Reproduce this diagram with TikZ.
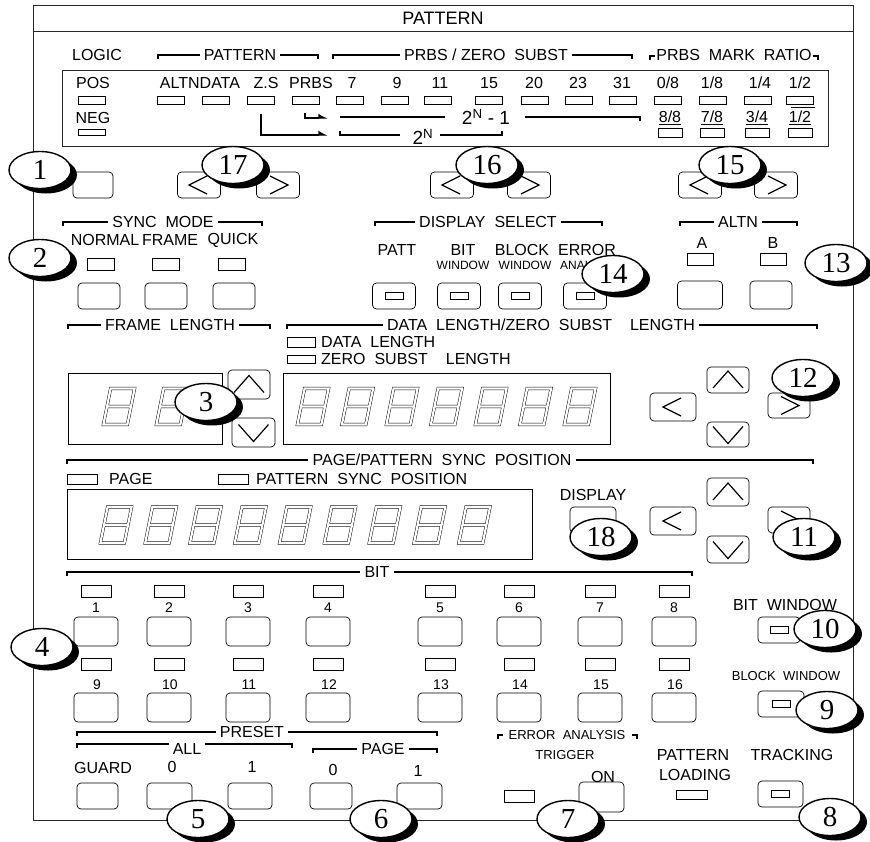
\documentclass[tikz,border=0pt]{standalone}
\usepackage{fontspec}
\setmainfont{Liberation Sans}
\newfontfamily\numfont{Liberation Serif}
\usetikzlibrary{shapes.geometric, shadows, arrows.meta}
\tikzset{
  frm/.style={line width=0.8pt, draw=black!85},
  brk/.style={line width=1.5pt},
  thn/.style={line width=1.2pt},
  lbl/.style={font=\fontsize{16}{18}\selectfont, inner sep=1pt},
  sml/.style={font=\fontsize{13}{15}\selectfont, inner sep=1pt},
  tiny/.style={font=\fontsize{12}{14}\selectfont, inner sep=1pt},
  num/.style={font=\fontsize{14}{16}\selectfont, inner sep=1pt},
  hdr/.style={lbl, inner sep=4pt},
  led/.style={draw, line width=0.6pt, minimum width=27pt, minimum height=8pt, inner sep=0pt},
  bigled/.style={led, minimum width=30pt, minimum height=12pt},
  btn/.style={draw, line width=0.7pt, rounded corners=4pt, minimum width=43pt,
              minimum height=26pt, inner sep=0pt},
  ledbtn/.style={btn, path picture={
      \draw[line width=0.6pt, sharp corners] ([shift={(-9pt,-3.5pt)}]path picture bounding box.center)
        rectangle ([shift={(9pt,3.5pt)}]path picture bounding box.center);}},
  chev/.style={line width=1.2pt, sharp corners},
  lbtn/.style={btn, path picture={
      \draw[chev] ([shift={(8pt,9pt)}]path picture bounding box.center)
        -- ([shift={(-10pt,0pt)}]path picture bounding box.center)
        -- ([shift={(8pt,-9pt)}]path picture bounding box.center);}},
  rbtn/.style={btn, path picture={
      \draw[chev] ([shift={(-8pt,9pt)}]path picture bounding box.center)
        -- ([shift={(10pt,0pt)}]path picture bounding box.center)
        -- ([shift={(-8pt,-9pt)}]path picture bounding box.center);}},
  ubtn/.style={btn, path picture={
      \draw[chev] ([shift={(-15pt,-8pt)}]path picture bounding box.center)
        -- ([shift={(0pt,9pt)}]path picture bounding box.center)
        -- ([shift={(15pt,-8pt)}]path picture bounding box.center);}},
  dbtn/.style={btn, path picture={
      \draw[chev] ([shift={(-15pt,8pt)}]path picture bounding box.center)
        -- ([shift={(0pt,-9pt)}]path picture bounding box.center)
        -- ([shift={(15pt,8pt)}]path picture bounding box.center);}},
  disp/.style={draw, line width=0.7pt, inner sep=0pt},
  seg/.style={line width=0.45pt, double=white, double distance=2.2pt},
  digit/.pic={\begin{scope}[xslant=0.2]
      \draw[seg] (-12,-18) rectangle (12,18) (-12,0) -- (12,0);
    \end{scope}},
  pw/.style={font=\fontsize{19}{21}\selectfont, inner sep=1pt},
  hook/.style={thn, -{Latex[harpoon, length=8pt, width=9pt]}},
  bubble/.style={ellipse, draw, line width=1.4pt, fill=white, minimum width=62pt,
                 minimum height=37pt, inner sep=0pt, font=\numfont\fontsize{29}{29}\selectfont,
                 drop shadow={shadow xshift=6pt, shadow yshift=-5pt, opacity=1, fill=black}},
}

\begin{document}
\begin{tikzpicture}[x=1pt, y=-1pt]
  \useasboundingbox (0,0) rectangle (870,841);
  \fill[white] (0,0) rectangle (870,841);

  % panel frame and title
  \draw[frm] (33,5) rectangle (853,820);
  \draw[frm] (33,31) -- (853,31);
  \node[font=\fontsize{18}{20}\selectfont] (title) at (443,18) {PATTERN};

  % logic / pattern / prbs selector
  \node[lbl] (logic) at (97,55) {LOGIC};
  \node[hdr] (hPat) at (240,55) {PATTERN};
  \draw[brk] (158,59) |- (hPat.west);
  \draw[brk] (hPat.east) -| (318,59);
  \node[hdr] (hPrbs) at (486,55) {PRBS / ZERO\ \ SUBST};
  \draw[brk] (333,59) |- (hPrbs.west);
  \draw[brk] (hPrbs.east) -| (632,59);
  \node[hdr] (hMark) at (734,55) {PRBS\ \ MARK\ \ RATIO};
  \draw[brk] (650,60) |- (655,56);
  \draw[brk] (813,56) -| (818,60);

  \draw[frm] (62,70) rectangle (828,146);
  \foreach \t/\x [count=\i] in {POS/93, ALTNDATA/200, Z.S/266, PRBS/311, 7/352, 9/397,
      11/440, 15/489, 20/534, 23/578, 31/622, {0/8}/668, {1/8}/712, {1/4}/760, {1/2}/800}
    \node[lbl] (tt\i) at (\x,83) {\t};
  \foreach \x [count=\i] in {92,171,216,261,306,350,395,438,489,535,579,623,668,713,758,800}
    \node[led] (tl\i) at (\x,100) {};
  \node[lbl] (neg) at (93,118) {NEG};
  \node[led, minimum height=6pt] (negled) at (92,132) {};
  \foreach \t/\x [count=\i] in {{8/8}/670, {7/8}/712, {3/4}/757, {1/2}/800} {
    \node[lbl] (rt\i) at (\x,118) {\underline{\t}};
    \node[led, minimum width=24pt, minimum height=9pt] (rl\i) at (\x,133) {};
  }
  \draw[line width=0.8pt] (791,107) -- (815,107);

  \draw[hook] (261,114) |- (328,135);
  \draw[hook] (305,113) |- (328,118);
  \node[pw] (pw1) at (486,117) {2\textsuperscript{N}\ -\ 1};
  \draw[thn] (340,117) -- (445,117);
  \draw[thn] (525,117) -| (640,121);
  \node[pw] (pw2) at (423,137) {2\textsuperscript{N}};
  \draw[thn] (340,131) |- (400,135);
  \draw[thn] (440,135) -| (502,131);

  \node[btn, minimum width=40pt] (bLogic) at (93,185) {};
  \node[lbtn] (lPat) at (199,185) {};
  \node[rbtn] (rPat) at (278,185) {};
  \node[lbtn] (lPrbs) at (452,185) {};
  \node[rbtn] (rPrbs) at (529,185) {};
  \node[lbtn] (lMark) at (700,185) {};
  \node[rbtn] (rMark) at (776,185) {};

  % sync mode / display select / altn
  \node[hdr] (hSync) at (163,222) {SYNC\ \ MODE};
  \draw[brk] (63,226) |- (hSync.west);
  \draw[brk] (hSync.east) -| (262,226);
  \foreach \t/\x/\l/\b [count=\i] in {NORMAL/105/101/99, FRAME/170/166/166, QUICK/233/232/234} {
    \node[lbl] (st\i) at (\x,240) {\t};
    \node[led, minimum height=12pt] (sl\i) at (\l,264) {};
    \node[btn, minimum width=42pt] (sb\i) at (\b,296) {};
  }
  \node[hdr] (hDisp) at (488,222) {DISPLAY\ \ SELECT};
  \draw[brk] (375,226) |- (hDisp.west);
  \draw[brk] (hDisp.east) -| (602,226);
  \node[lbl] (dPatt) at (397,250) {PATT};
  \node[lbl] (dBit) at (463,250) {BIT};
  \node[tiny] (dBitW) at (463,265) {WINDOW};
  \node[lbl] (dBlk) at (522,250) {BLOCK};
  \node[tiny] (dBlkW) at (525,265) {WINDOW};
  \node[lbl] (dErr) at (587,250) {ERROR};
  \node[tiny] (dErrA) at (589,265) {ANALYSIS};
  \foreach \x [count=\i] in {394,459,520,585}
    \node[ledbtn] (db\i) at (\x,296) {};
  \node[hdr] (hAltn) at (738,222) {ALTN};
  \draw[brk] (680,226) |- (hAltn.west);
  \draw[brk] (hAltn.east) -| (797,226);
  \node[lbl] (aA) at (702,243) {A};
  \node[lbl] (aB) at (773,243) {B};
  \node[led, minimum width=26pt, minimum height=12pt] (alA) at (700,259) {};
  \node[led, minimum width=26pt, minimum height=12pt] (alB) at (773,259) {};
  \node[btn, minimum width=45pt, minimum height=28pt] (abA) at (700,295) {};
  \node[btn, minimum width=42pt, minimum height=28pt] (abB) at (771,295) {};

  % frame length / data length
  \node[hdr] (hFrame) at (170,325) {FRAME\ \ LENGTH};
  \draw[brk] (68,329) |- (hFrame.west);
  \draw[brk] (hFrame.east) -| (270,329);
  \node[hdr] (hData) at (541,325) {DATA\ \ LENGTH/ZERO\ \ SUBST\ \ \ \ LENGTH};
  \draw[brk] (287,329) |- (hData.west);
  \draw[brk] (hData.east) -| (817,329);
  \node[led, minimum width=28pt, minimum height=10pt] (lDat) at (301,342) {};
  \node[lbl, anchor=west] (tDat) at (320,342) {DATA\ \ LENGTH};
  \node[led, minimum width=28pt, minimum height=8pt] (lZs) at (301,359) {};
  \node[lbl, anchor=west] (tZs) at (320,359) {ZERO\ \ SUBST\hspace{18pt}LENGTH};

  \node[disp, minimum width=154pt, minimum height=71pt] (dFrame) at (145,408.5) {};
  \foreach \x in {119,172} \pic at (\x,406.5) {digit};
  \node[ubtn, minimum width=42pt, minimum height=29pt] (uFrame) at (249,384.5) {};
  \node[dbtn, minimum width=43pt, minimum height=29pt] (dnFrame) at (253.5,432.5) {};
  \node[disp, minimum width=327pt, minimum height=71pt] (dData) at (446.5,408.5) {};
  \foreach \i in {0,...,6} \pic at (313+44.5*\i,406.5) {digit};
  \node[lbtn, minimum width=46pt, minimum height=28pt] (lData) at (673,407) {};
  \node[ubtn, minimum width=42pt] (uData) at (728,380) {};
  \node[dbtn, minimum width=42pt, minimum height=25pt] (dnData) at (728,434.5) {};
  \node[rbtn, minimum width=42pt, minimum height=25pt] (rData) at (789,405.5) {};

  % page / pattern sync position
  \node[hdr] (hPage) at (442,460) {PAGE/PATTERN\ \ SYNC\ \ POSITION};
  \draw[brk] (67,464) |- (hPage.west);
  \draw[brk] (hPage.east) -| (813,464);
  \node[led, minimum width=30pt, minimum height=10pt] (lPage) at (82,479) {};
  \node[lbl, anchor=west] (tPage) at (108,479) {PAGE};
  \node[led, minimum width=30pt, minimum height=10pt] (lPsp) at (233,479) {};
  \node[lbl, anchor=west] (tPsp) at (255,479) {PATTERN\ \ SYNC\ \ POSITION};
  \node[disp, minimum width=465pt, minimum height=70pt] (dPage) at (299.5,524) {};
  \foreach \i in {0,...,8} \pic at (116+44.8*\i,525) {digit};
  \node[lbl] (tDisp) at (593,495) {DISPLAY};
  \node[btn, minimum width=46pt] (bDisp) at (593,520) {};
  \node[ubtn, minimum width=42pt, minimum height=28pt] (uPage) at (728,492) {};
  \node[lbtn, minimum width=46pt, minimum height=28pt] (lPg) at (673,521) {};
  \node[dbtn, minimum width=42pt, minimum height=27pt] (dnPage) at (728,549.5) {};
  \node[rbtn, minimum width=42pt] (rPage) at (789,520) {};

  % bit keys
  \node[hdr] (hBit) at (377,572) {BIT};
  \draw[brk] (67,576) |- (hBit.west);
  \draw[brk] (hBit.east) -| (692,576);
  \foreach \x [count=\i] in {96,169,248,328,440,519,600,674} {
    \pgfmathtruncatemacro\j{\i+8}
    \node[bigled] (bl\i) at (\x,591) {};
    \node[num] (bn\i) at (\x,608) {\i};
    \node[btn, minimum width=44pt, minimum height=29pt] (bb\i) at (\x,631.5) {};
    \node[bigled] (bl\j) at (\x,664.5) {};
    \node[num] (bn\j) at (\x+1,685) {\j};
    \node[btn, minimum width=44pt, minimum height=29pt] (bb\j) at (\x,707.5) {};
  }
  \node[lbl] (tBitW) at (785,605) {BIT\ \ WINDOW};
  \node[ledbtn, minimum width=42pt] (bBitW) at (779,630) {};
  \node[sml] (tBlkW) at (786,676) {BLOCK\ \ WINDOW};
  \node[ledbtn, minimum width=46pt] (bBlkW) at (781,704) {};

  % preset / error analysis / loading / tracking
  \node[hdr] (hPre) at (252,732) {PRESET};
  \draw[brk] (77,736) |- (hPre.west);
  \draw[brk] (hPre.east) -| (437,736);
  \node[hdr] (hAll) at (187,749) {ALL};
  \draw[brk] (77,748) |- (hAll.west |- 0,744);
  \draw[brk] (hAll.east |- 0,744) -| (292,748);
  \node[hdr] (hPg) at (383,749) {PAGE};
  \draw[brk] (313,753) |- (hPg.west);
  \draw[brk] (hPg.east) -| (437,753);
  \foreach \t/\x/\y/\b/\w [count=\i] in {GUARD/103/768/97.5/41, 0/172/767/169.5/45,
      1/252/767/250/44, 0/333/770/331/42, 1/418/771/419.5/45} {
    \node[lbl] (pt\i) at (\x,\y) {\t};
    \node[btn, minimum width=\w pt] (pb\i) at (\b,796) {};
  }
  \node[sml] (hErr) at (567,735) {ERROR\ \ ANALYSIS};
  \draw[brk] (498,739) |- (503,735);
  \draw[brk] (632,735) -| (637,739);
  \node[sml] (tTrig) at (565,755) {TRIGGER};
  \node[bigled] (lTrig) at (519,796) {};
  \node[lbl] (tOn) at (603,777) {ON};
  \node[btn, minimum width=45pt, minimum height=30pt] (bOn) at (601.5,797) {};
  \node[lbl] (tPat) at (693,755) {PATTERN};
  \node[lbl] (tLoad) at (695,775) {LOADING};
  \node[led, minimum width=31pt, minimum height=9pt] (lLoad) at (691.5,794.5) {};
  \node[lbl] (tTrk) at (792,755) {TRACKING};
  \node[ledbtn, minimum width=45pt] (bTrk) at (780.5,794) {};

  % callouts
  \foreach \n/\x/\y in {1/40/170, 17/233/165, 16/487/165, 15/730/165, 2/40/258,
      14/613/274, 13/836/263, 3/206/402, 12/803/378, 18/601/537, 11/804/537,
      4/42/647, 10/825/629, 9/827/710, 5/198/819, 6/381/819, 7/568/819, 8/830/817}
    \node[bubble] (call\n) at (\x,\y) {\n};
\end{tikzpicture}
\end{document}
